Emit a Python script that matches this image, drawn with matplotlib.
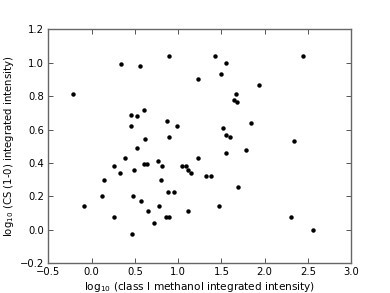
import matplotlib
matplotlib.use("Agg")
import matplotlib.pyplot as plt
import numpy as np

methanol = [-0.22, 0.34, 0.555, 0.90, 1.23, 0.46, 0.52, 0.60, 0.46, 0.87, 0.99, 0.62, 0.90, 0.53,
            1.43, 1.55, 1.50, 2.445, 1.93, 1.67, 1.64, 1.68, 1.845, 1.52, 1.55, 1.60, 2.34, 1.78, 1.556,
            -0.089, 0.116, 0.146, 0.258, 0.258, 0.324, 0.38, 0.462, 0.477, 0.49, 0.57, 0.60, 0.636,
            0.647, 0.717, 0.766, 0.81, 0.80, 0.78, 0.878, 0.86, 0.89, 0.955, 1.04, 1.087, 1.117,
            1.148, 1.117, 1.232, 1.32, 1.38, 1.695, 1.475, 2.30, 2.555]
cs = [0.81, 0.99, 0.98, 1.04, 0.90, 0.69, 0.68, 0.72, 0.62, 0.65, 0.62, 0.544, 0.556, 0.49,
      1.04, 1.00, 0.934, 1.04, 0.869, 0.81, 0.777, 0.763, 0.642, 0.612, 0.566, 0.556, 0.53, 0.478, 0.46,
      0.144, 0.204, 0.30, 0.381, 0.076, 0.341, 0.43, -0.025, 0.202, 0.361, 0.174, 0.397, 0.397,
      0.112, 0.04, 0.415, 0.381, 0.30, 0.144, 0.228, 0.078, 0.078, 0.228, 0.381, 0.381, 0.361,
      0.341, 0.112, 0.43, 0.321, 0.321, 0.254, 0.144, 0.078, 0.0]

xticks = [-0.5, 0.0, 0.5, 1.0, 1.5, 2.0, 2.5, 3.0]
yticks = [-0.2, 0.0, 0.2, 0.4, 0.6, 0.8, 1.0, 1.2]

fig = plt.figure(figsize=(3.9, 2.93), dpi=100)
ax = fig.add_axes([0.124, 0.1014, 0.7765, 0.7986])
ax.plot(methanol, cs, 'o', color='black', markersize=3.2, markeredgewidth=0)
ax.set_xlim(-0.5, 3.0)
ax.set_ylim(-0.2, 1.2)
ax.set_xticks(xticks)
ax.set_yticks(yticks)
ax.set_xticklabels([f"{t:.1f}".replace('-', '\u2212') for t in xticks])
ax.set_yticklabels([f"{t:.1f}".replace('-', '\u2212') for t in yticks])
ax.tick_params(direction='in', top=True, right=True, labelsize=7.2, length=3.5, width=0.7,
               color='#555555', pad=3)
for s in ax.spines.values():
    s.set_color('#666666')
    s.set_linewidth(1.0)
ax.set_xlabel('log$_{10}$ (class I methanol integrated intensity)', fontsize=7.6, labelpad=2)
ax.set_ylabel('log$_{10}$ (CS (1-0) integrated intensity)', fontsize=7.3, labelpad=2.5)
fig.savefig('out.png', dpi=100)
